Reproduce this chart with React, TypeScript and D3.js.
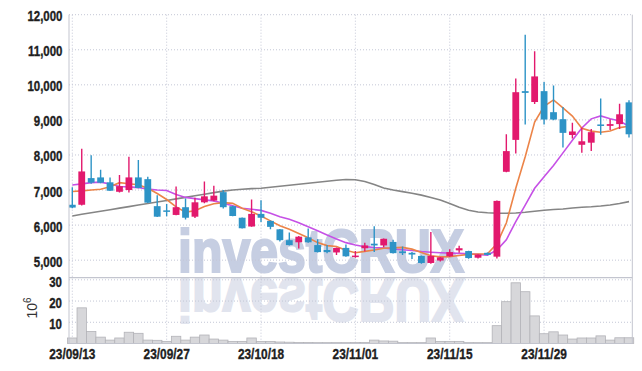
import React from "react";
import * as d3 from "d3";

const dates = [
  "23/09/13","23/09/14","23/09/15","23/09/18","23/09/19","23/09/20","23/09/21","23/09/22","23/09/25","23/09/26",
  "23/09/27","23/10/04","23/10/05","23/10/06","23/10/10","23/10/11","23/10/12","23/10/13","23/10/16","23/10/17",
  "23/10/18","23/10/19","23/10/20","23/10/23","23/10/24","23/10/25","23/10/26","23/10/27","23/10/30","23/10/31",
  "23/11/01","23/11/02","23/11/03","23/11/06","23/11/07","23/11/08","23/11/09","23/11/10","23/11/13","23/11/14",
  "23/11/15","23/11/16","23/11/17","23/11/20","23/11/21","23/11/22","23/11/23","23/11/24","23/11/27","23/11/28",
  "23/11/29","23/11/30","23/12/01","23/12/04","23/12/05","23/12/06","23/12/07","23/12/08","23/12/11","23/12/12",
];

const opens = [
  6580,6580,7340,7360,7220,6950,7000,7360,7310,6540,
  6420,6290,6510,6240,6650,6700,6940,6540,6210,5960,
  6320,6120,5880,5570,5510,5650,5430,5290,5220,5350,
  5090,5340,5470,5420,5520,5250,5210,5120,4920,4990,
  5110,5280,5260,5070,5210,5100,7520,8430,9820,9510,
  9820,9220,9020,8570,8290,8350,8870,8830,8880,9500,
];
const highs = [
  7080,8180,7990,7580,7360,7430,7950,7860,7380,6850,
  6600,7100,6760,6780,7240,7120,7000,6550,6220,6730,
  6710,6130,5890,5790,5690,5900,5600,5430,5360,5450,
  5260,5500,5970,5620,5580,5390,5230,5130,5800,5090,
  5310,5410,5270,5170,5220,6700,8590,10180,11430,10960,
  10080,9980,9370,8920,8780,8740,9610,9020,9460,9560,
];
const lows = [
  6480,6560,7180,7190,6970,6930,6930,7050,6630,6230,
  6250,6280,6160,6200,6620,6680,6470,6250,5900,5950,
  6090,5880,5530,5420,5330,5500,5220,5200,5150,5100,
  5070,5250,5230,5370,5190,5150,5030,4900,4900,4960,
  5100,5210,5040,5050,5140,5050,7510,8040,8870,9450,
  8870,8990,8210,8470,8060,8110,8580,8710,8740,8500,
];
const closes = [
  6500,7530,7210,7210,6980,7110,7360,7060,6640,6240,
  6400,6510,6210,6650,6820,6840,6510,6260,5910,6320,
  6210,5950,5570,5430,5670,5510,5230,5230,5350,5110,
  5130,5420,5420,5610,5200,5200,5160,4920,5120,5080,
  5230,5340,5060,5160,5150,6690,8110,9790,9770,10240,
  9010,9010,8630,8670,8390,8650,8830,8880,9160,8590,
];
const volumes = [
  2.6,16.8,5.7,3.0,1.6,2.6,5.3,4.8,1.6,1.5,
  1.0,3.4,1.6,3.0,4.0,2.1,1.6,1.0,1.0,2.6,
  0.9,0.9,0.7,0.6,0.5,0.5,0.4,0.4,0.4,0.4,
  0.5,0.5,1.6,1.2,1.1,0.4,0.4,0.4,2.6,1.0,
  1.0,1.0,0.4,0.4,0.4,8.4,19.7,28.6,24.4,13.0,
  4.6,5.5,4.0,2.1,2.6,2.6,3.6,1.6,2.7,2.7,
];
const ma5 = [
  6960,6975,7000,7020,7095,7210,7180,7150,7050,6900,
  6730,6520,6370,6410,6530,6610,6640,6620,6480,6380,
  6260,6120,5980,5880,5760,5640,5500,5415,5390,5280,
  5210,5250,5290,5340,5355,5365,5315,5220,5125,5095,
  5100,5135,5165,5175,5185,5470,6060,7050,7950,8940,
  9385,9570,9340,9110,8760,8680,8650,8685,8780,8820,
];
const ma10 = [
  7145,7175,7210,7225,7170,7100,7090,7070,7025,7000,
  6985,6870,6790,6755,6720,6690,6625,6550,6480,6450,
  6420,6340,6240,6165,6070,5955,5840,5720,5605,5500,
  5435,5385,5360,5345,5320,5295,5275,5245,5225,5210,
  5200,5195,5185,5165,5140,5290,5580,6100,6570,7050,
  7380,7700,8060,8420,8770,9030,9115,9030,8970,8820,
];
const maLong = [
  6261,6307,6350,6395,6438,6483,6526,6571,6615,6660,
  6703,6748,6791,6837,6880,6925,6968,7002,7022,7040,
  7050,7080,7108,7137,7165,7194,7222,7250,7279,7302,
  7293,7245,7159,7060,7002,6954,6908,6854,6789,6717,
  6617,6509,6423,6375,6352,6341,6338,6347,6366,6395,
  6423,6446,6461,6489,6509,6523,6546,6575,6615,6669,
];

const priceTicks = [5000, 6000, 7000, 8000, 9000, 10000, 11000, 12000];
const volumeTicks = [10, 20, 30];
const xTickIndices = [0, 10, 20, 30, 40, 50];

const W = 642;
const H = 371;
const LEFT = 69;
const RIGHT = 632.3;
const TOP = 14.7;
const SPLIT = 277.7;
const BOTTOM = 343.5;

const UP = "#e2196d";
const DOWN = "#2d93c6";
const GRID = "#c4c7d6";
const FONT = "'Liberation Sans', Arial, sans-serif";
const NARROW = 0.82;

function NText(props: {
  x: number;
  y: number;
  anchor?: string;
  size?: number;
  weight?: string;
  fill?: string;
  stroke?: number;
  children: React.ReactNode;
}) {
  const { x, y, anchor = "start", size = 14, weight = "bold", fill = "#1e1e1e", stroke = 0.35, children } = props;
  return (
    <g transform={`translate(${x},${y}) scale(${NARROW},1)`}>
      <text
        x={0}
        y={0}
        textAnchor={anchor}
        fontFamily={FONT}
        fontWeight={weight}
        fontSize={size}
        fill={fill}
        stroke={fill}
        strokeWidth={stroke}
      >
        {children}
      </text>
    </g>
  );
}

export default function App() {
  const idx = d3.range(dates.length);
  const x = d3.scaleLinear().domain([-0.35, dates.length - 1 + 0.35]).range([LEFT, RIGHT]);
  const y = d3.scaleLinear().domain([4500, 12000]).range([SPLIT, TOP]);
  const yv = d3.scaleLinear().domain([0, 31]).range([BOTTOM, SPLIT]);
  const step = x(1) - x(0);
  const fmt = d3.format(",");

  const line = (arr: number[]) =>
    d3.line<number>().x((_, i) => x(i)).y((v) => y(v))(arr) || "";

  const wmY = 272;
  const axisY = 275.5;

  return (
    <svg
      width={W}
      height={H}
      style={{ position: "absolute", left: 0, top: 0, background: "#fff" }}
    >
      <defs>
        <clipPath id="main">
          <rect x={LEFT} y={TOP} width={RIGHT - LEFT} height={SPLIT - TOP} />
        </clipPath>
      </defs>
      <rect x={0} y={0} width={W} height={H} fill="#fff" />

      {/* watermark */}
      <NText x={178} y={wmY} size={61} fill="#c6cee2" stroke={2.2}>investCRUX</NText>
      <g transform={`translate(0, ${2 * axisY}) scale(1,-1)`}>
        <NText x={178} y={wmY} size={61} fill="#e1e4ee" stroke={2.2}>investCRUX</NText>
      </g>

      {/* grid */}
      {priceTicks.map((t) => (
        <line key={"pg" + t} x1={LEFT} x2={RIGHT} y1={y(t)} y2={y(t)} stroke={GRID} strokeWidth={1} strokeDasharray="1,2" />
      ))}
      {volumeTicks.map((t) => (
        <line key={"vg" + t} x1={LEFT} x2={RIGHT} y1={yv(t)} y2={yv(t)} stroke={GRID} strokeWidth={1} strokeDasharray="1,2" />
      ))}
      {xTickIndices.map((i) => (
        <line key={"xg" + i} x1={x(i)} x2={x(i)} y1={TOP} y2={BOTTOM} stroke={GRID} strokeWidth={1} strokeDasharray="1,2" />
      ))}

      {/* volume bars */}
      {idx.map((i) => (
        <rect
          key={"v" + i}
          x={x(i) - step / 2}
          y={yv(volumes[i])}
          width={step}
          height={BOTTOM - yv(volumes[i])}
          fill="#d7d7da"
          stroke="#b3b3b8"
          strokeWidth={0.8}
        />
      ))}

      {/* moving averages */}
      <g clipPath="url(#main)">
        <path d={line(maLong)} fill="none" stroke="#858585" strokeWidth={1.6} />
        <path d={line(ma10)} fill="none" stroke="#c651e6" strokeWidth={1.6} />
        <path d={line(ma5)} fill="none" stroke="#ec8448" strokeWidth={1.6} />

        {/* candles */}
        {idx.map((i) => {
          const up = closes[i] >= opens[i];
          const c = up ? UP : DOWN;
          const top = y(Math.max(opens[i], closes[i]));
          const bot = y(Math.min(opens[i], closes[i]));
          return (
            <g key={"c" + i}>
              <line x1={x(i)} x2={x(i)} y1={y(highs[i])} y2={y(lows[i])} stroke={c} strokeWidth={1.4} />
              <rect x={x(i) - 3.4} y={top} width={6.8} height={Math.max(1.5, bot - top)} fill={c} />
            </g>
          );
        })}
      </g>

      {/* frame */}
      <line x1={LEFT} x2={LEFT} y1={TOP} y2={BOTTOM} stroke="#c3c5cf" strokeWidth={1} />
      <line x1={RIGHT} x2={RIGHT} y1={TOP} y2={BOTTOM} stroke="#c3c5cf" strokeWidth={1} />
      <line x1={LEFT} x2={RIGHT} y1={SPLIT} y2={SPLIT} stroke="#c3c5cf" strokeWidth={1.2} />
      <line x1={LEFT} x2={RIGHT} y1={BOTTOM} y2={BOTTOM} stroke="#c3c5cf" strokeWidth={0.8} />

      {/* y labels */}
      {priceTicks.map((t) => (
        <NText key={"pl" + t} x={62.5} y={y(t) + 6.5} anchor="end">
          {fmt(t)}
        </NText>
      ))}
      {volumeTicks.map((t) => (
        <NText key={"vl" + t} x={62} y={yv(t) + 7} anchor="end">
          {String(t)}
        </NText>
      ))}
      <text transform="translate(37,308) rotate(-90)" textAnchor="middle" fontFamily={FONT} fontSize={14} fill="#333">
        10<tspan dy={-6} fontSize={10}>6</tspan>
      </text>

      {/* x labels */}
      {xTickIndices.map((i) => (
        <NText key={"xl" + i} x={x(i)} y={358.5} anchor="middle" size={14.5}>
          {dates[i]}
        </NText>
      ))}
    </svg>
  );
}
